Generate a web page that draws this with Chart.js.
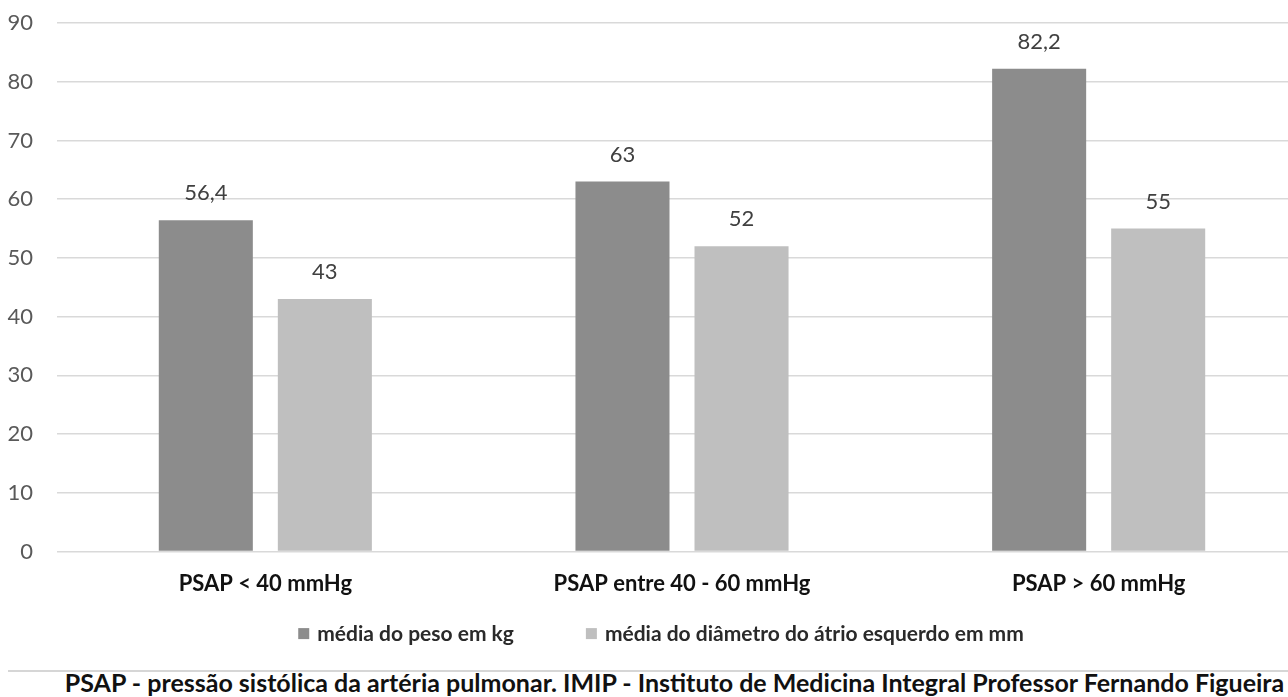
<!DOCTYPE html>
<html>
<head>
<meta charset="utf-8">
<script src="https://cdn.jsdelivr.net/npm/chart.js@4/dist/chart.umd.min.js"></script>
<style>
  html, body { margin: 0; padding: 0; background: #fff; overflow: hidden; width: 1288px; height: 697px; }
  #wrap { position: absolute; left: 0; top: 0; width: 1312px; height: 662px; }
  #rule { position: absolute; left: 8px; top: 670px; width: 1280px; height: 0; border-top: 2px solid #d6d6d6; }
  #note { position: absolute; left: 0; top: 668px; width: 1349px; text-align: center; white-space: nowrap;
          font-family: Lato, sans-serif; font-weight: 700; font-size: 25px; line-height: 28px; color: #111; }
</style>
</head>
<body>
<div id="wrap"><canvas id="chart" width="1312" height="662"></canvas></div>
<div id="rule"></div>
<div id="note">PSAP - pressão sistólica da artéria pulmonar. IMIP - Instituto de Medicina Integral Professor Fernando Figueira</div>
<script>
// Groups along the x axis
const categories = ['PSAP < 40 mmHg', 'PSAP entre 40 - 60 mmHg', 'PSAP > 60 mmHg'];
// Series names
const seriesNames = ['média do peso em kg', 'média do diâmetro do átrio esquerdo em mm'];
// Series values
const pesoMedio = [56.4, 63, 82.2];
const diametroAtrio = [43, 52, 55];
// Value axis ticks
const yTicks = [0, 10, 20, 30, 40, 50, 60, 70, 80, 90];

const FONT = 'Lato, sans-serif';
const seriesColors = ['#8c8c8c', '#bfbfbf'];

// Writes each bar's value above it, with a decimal comma
const valueLabels = {
  id: 'valueLabels',
  afterDatasetsDraw(chart) {
    const ctx = chart.ctx;
    ctx.save();
    ctx.font = '22px ' + FONT;
    ctx.fillStyle = '#404040';
    ctx.textAlign = 'center';
    ctx.textBaseline = 'middle';
    chart.data.datasets.forEach((ds, i) => {
      chart.getDatasetMeta(i).data.forEach((bar, j) => {
        ctx.fillText(String(ds.data[j]).replace('.', ','), bar.x, bar.y - 27);
      });
    });
    ctx.restore();
  }
};

// Legend row under the category labels: square swatch + bold series name
const seriesKey = {
  id: 'seriesKey',
  afterDraw(chart) {
    const ctx = chart.ctx;
    const box = 11, gap = 8, itemGap = 72;
    const y = chart.chartArea.bottom + 82;
    ctx.save();
    ctx.font = 'bold 21px ' + FONT;
    ctx.textBaseline = 'middle';
    ctx.textAlign = 'left';
    const items = chart.data.datasets.map(ds => ({ text: ds.label, color: ds.backgroundColor, w: ctx.measureText(ds.label).width }));
    const total = items.reduce((s, it) => s + box + gap + it.w, 0) + itemGap * (items.length - 1);
    let x = 661 - total / 2;
    items.forEach(it => {
      ctx.fillStyle = it.color;
      ctx.fillRect(x, y - box / 2, box, box);
      ctx.fillStyle = '#2a2a2a';
      ctx.fillText(it.text, x + box + gap, y + 1);
      x += box + gap + it.w + itemGap;
    });
    ctx.restore();
  }
};

new Chart(document.getElementById('chart'), {
  type: 'bar',
  data: {
    labels: categories,
    datasets: [
      { label: seriesNames[0], data: pesoMedio, backgroundColor: seriesColors[0] },
      { label: seriesNames[1], data: diametroAtrio, backgroundColor: seriesColors[1] }
    ]
  },
  options: {
    responsive: false,
    animation: false,
    events: [],
    categoryPercentage: 0.5714,
    barPercentage: 0.79,
    layout: { padding: { left: 0, right: 5, top: 23, bottom: 46 } },
    scales: {
      x: {
        grid: { display: false, drawTicks: false },
        border: { display: false },
        ticks: { color: '#111', padding: 19, font: { family: FONT, size: 22, weight: 'bold' } }
      },
      y: {
        min: yTicks[0],
        max: yTicks[yTicks.length - 1],
        afterBuildTicks(axis) { axis.ticks = yTicks.map(v => ({ value: v })); },
        afterFit(axis) { axis.width = 57; },
        grid: { color: '#d9d9d9', lineWidth: 1.5, drawTicks: true, tickLength: 24, tickColor: 'rgba(0,0,0,0)' },
        border: { display: false },
        ticks: { color: '#595959', padding: 0, font: { family: FONT, size: 22 } }
      }
    },
    plugins: {
      tooltip: { enabled: false },
      legend: { display: false }
    }
  },
  plugins: [valueLabels, seriesKey]
});
</script>
</body>
</html>
